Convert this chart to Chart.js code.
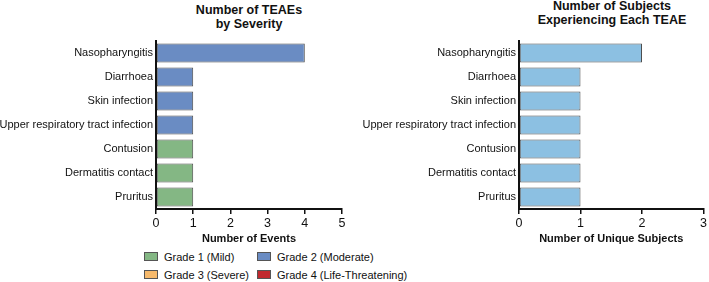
<!DOCTYPE html>
<html>
<head>
<meta charset="utf-8">
<script src="https://cdn.jsdelivr.net/npm/chart.js@4"></script>
<style>
    body { margin: 0; background: #fff; width: 709px; height: 282px; overflow: hidden; position: relative; font-family: "Liberation Sans", Arial, sans-serif; color: #111; }
    .title { position: absolute; font-weight: bold; font-size: 12.5px; line-height: 14px; text-align: center; width: 240px; }
    #leftWrap { position: absolute; left: 0; top: 0; width: 360px; height: 250px; }
    #rightWrap { position: absolute; left: 360px; top: 0; width: 349px; height: 250px; }
    .legend { position: absolute; font-size: 11px; }
    .legend div { position: absolute; white-space: nowrap; height: 14px; line-height: 14px; }
    .legend span.box { display: inline-block; width: 12px; height: 7px; border: 1px solid #555; vertical-align: 0px; margin-right: 6px; }
</style>
</head>
<body>

<div class="title" style="left:129px; top:3px;">Number of TEAEs<br>by Severity</div>
<div class="title" style="left:492px; top:-1px;">Number of Subjects<br>Experiencing Each TEAE</div>

<div id="leftWrap"><canvas id="severityChart" width="360" height="250"></canvas></div>
<div id="rightWrap"><canvas id="subjectsChart" width="349" height="250"></canvas></div>

<div class="legend" id="legend"></div>

<script>
const events = [
    "Nasopharyngitis",
    "Diarrhoea",
    "Skin infection",
    "Upper respiratory tract infection",
    "Contusion",
    "Dermatitis contact",
    "Pruritus"
];

const grade1 = [0, 0, 0, 0, 1, 1, 1];
const grade2 = [4, 1, 1, 1, 0, 0, 0];
const grade3 = [0, 0, 0, 0, 0, 0, 0];
const grade4 = [0, 0, 0, 0, 0, 0, 0];

const subjects = [2, 1, 1, 1, 1, 1, 1];

const eventTicks = [0, 1, 2, 3, 4, 5];
const subjectTicks = [0, 1, 2, 3];

const gradeNames = ["Grade 1 (Mild)", "Grade 2 (Moderate)", "Grade 3 (Severe)", "Grade 4 (Life-Threatening)"];
const gradeColors = ["#84b784", "#6a8cc3", "#f7ba6c", "#c0292e"];

const fontFamily = "'Liberation Sans', Arial, sans-serif";
const edge = "#4d4d4d";


function makeOptions(ticks, axisTitle, yWidth, rightPad) {
    return {
        indexAxis: "y",
        responsive: false,
        animation: false,
        layout: { padding: { top: 41, right: rightPad, left: 0, bottom: 0 } },
        plugins: {
            legend: { display: false },
            tooltip: { enabled: false },
            title: { display: false }
        },
        scales: {
            x: {
                stacked: true,
                min: ticks[0],
                max: ticks[ticks.length - 1],
                afterBuildTicks: (scale) => { scale.ticks = ticks.map(v => ({ value: v })); },
                afterFit: (scale) => { scale.height = 41; },
                grid: { display: true, drawOnChartArea: false, drawTicks: true, tickLength: 5, color: "#111", lineWidth: 1.5 },
                border: { display: true, color: "#111", width: 2 },
                ticks: { color: "#111", padding: 2, font: { family: fontFamily, size: 12.5 }, maxRotation: 0 },
                title: {
                    display: true,
                    text: axisTitle,
                    color: "#111",
                    font: { family: fontFamily, size: 11, weight: "bold" },
                    padding: { top: 0, bottom: 4 }
                }
            },
            y: {
                stacked: true,
                afterFit: (scale) => { scale.width = yWidth; },
                grid: { display: false, drawTicks: false, tickLength: 0 },
                border: { display: true, color: "#111", width: 2 },
                ticks: { color: "#111", padding: 3, autoSkip: false, font: { family: fontFamily, size: 11 } }
            }
        }
    };
}


const severityChart = new Chart(document.getElementById("severityChart"), {
    type: "bar",
    data: {
        labels: events,
        datasets: [grade1, grade2, grade3, grade4].map((d, i) => ({
            label: gradeNames[i],
            data: d,
            backgroundColor: gradeColors[i],
            borderColor: edge,
            borderWidth: 1,
            borderSkipped: false,
            barPercentage: 0.8,
            categoryPercentage: 1
        }))
    },
    options: makeOptions(eventTicks, "Number of Events", 156, 18)
});

const subjectsChart = new Chart(document.getElementById("subjectsChart"), {
    type: "bar",
    data: {
        labels: events,
        datasets: [
            {
                label: "Subjects",
                data: subjects,
                backgroundColor: "#8cc0e2",
                borderColor: edge,
                borderWidth: 1,
                borderSkipped: false,
                barPercentage: 0.8,
                categoryPercentage: 1
            }
        ]
    },
    options: makeOptions(subjectTicks, "Number of Unique Subjects", 159, 0)
});


// legend in a 2x2 grid under the left chart
const legend = document.getElementById("legend");
const spots = [[144, 250], [257, 250], [144, 268], [257, 268]];
gradeNames.forEach((name, i) => {
    const item = document.createElement("div");
    item.style.left = spots[i][0] + "px";
    item.style.top = spots[i][1] + "px";
    item.innerHTML = '<span class="box" style="background:' + gradeColors[i] + '"></span>' + name;
    legend.appendChild(item);
});
</script>
</body>
</html>
